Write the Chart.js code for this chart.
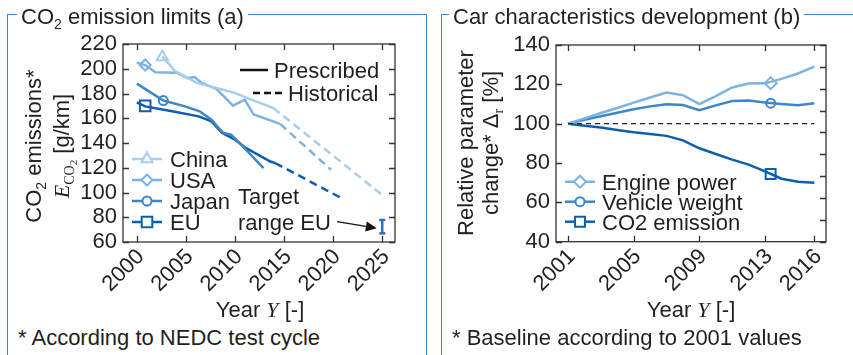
<!DOCTYPE html>
<html>
<head>
<meta charset="utf-8">
<script src="https://cdn.jsdelivr.net/npm/chart.js@4.4.1/dist/chart.umd.min.js"></script>
<style>
  body { margin: 0; background: #fff; font-family: "Liberation Sans", Arial, sans-serif; color: #231f20; }
  #wrap { position: relative; width: 853px; height: 355px; overflow: hidden; }
  canvas { position: absolute; top: 0; }
  .panel { position: absolute; top: 14px; height: 400px; box-sizing: border-box; border: 1.5px solid #4584c6; border-bottom: none; }
  .ptitle { position: absolute; top: 6px; font-size: 22px; line-height: 22px; background: #fff; padding: 0 4px; white-space: nowrap; }
  .txt { position: absolute; font-size: 22px; line-height: 22px; white-space: nowrap; }
  .rot { position: absolute; width: 220px; height: 50px; font-size: 22px; line-height: 25px; text-align: center; white-space: nowrap; transform: rotate(-90deg); }
  .m { font-family: "Liberation Serif", "DejaVu Serif", serif; font-style: italic; }
  .rm { font-family: "Liberation Serif", "DejaVu Serif", serif; }
  .sb { font-size: 14px; position: relative; top: 5px; }
  .sb2 { font-size: 11px; position: relative; top: 3px; }
</style>
</head>
<body>
<div id="wrap">
  <div class="panel" style="left:7px;width:420px;"></div>
  <div class="panel" style="left:441px;width:430px;border-right:none;"></div>
  <canvas id="chartA" width="430" height="300" style="left:0"></canvas>
  <canvas id="chartB" width="413" height="300" style="left:440px"></canvas>

  <div class="ptitle" style="left:17px;">CO<span class="sb">2</span> emission limits (a)</div>
  <div class="ptitle" style="left:449px;">Car characteristics development (b)</div>

  <div class="rot" style="left:-64px;top:121px;">CO<span class="sb">2</span> emissions*<br><span class="m">E</span><span class="rm sb">CO<span class="sb2">2</span></span> [g/km]</div>
  <div class="rot" style="left:368px;top:118px;">Relative parameter<br>change* &Delta;<span class="rm sb">r</span> [%]</div>

  <div class="txt" style="left:160px;top:299px;width:200px;text-align:center;">Year <span class="m">Y</span> [-]</div>
  <div class="txt" style="left:591px;top:299px;width:200px;text-align:center;">Year <span class="m">Y</span> [-]</div>
  <div class="txt" style="left:18px;top:327px;">* According to NEDC test cycle</div>
  <div class="txt" style="left:452px;top:327px;">* Baseline according to 2001 values</div>
</div>

<script>
const fontFam = '"Liberation Sans", Arial, sans-serif';
const ink = '#231f20';

// ---- (a) CO2 emission limits ----
const yearTicksA = [2000, 2005, 2010, 2015, 2020, 2025];
const emissionTicks = [60, 80, 100, 120, 140, 160, 180, 200, 220];

const chinaPrescribed = [[2002.6, 210], [2003.9, 198], [2006.1, 188.6], [2008.5, 183.7], [2010, 180.5], [2011.2, 176.4], [2013.9, 168.3]];
const chinaHistorical = [[2013.9, 168.3], [2025, 98]];
const usaPrescribed = [[2000, 204.8], [2000.85, 203], [2001.9, 197.2], [2004.1, 196.7], [2005.1, 192.6], [2005.9, 193.2], [2006.6, 188.6], [2008.1, 183.7], [2009.8, 170.2], [2011, 175], [2011.9, 163], [2014.6, 155.4]];
const usaHistorical = [[2014.6, 155.4], [2019.8, 118.3]];
const japanPrescribed = [[2000, 188], [2002.7, 174.3], [2004.9, 169.6], [2006.4, 165.6], [2007.6, 158.9], [2008.8, 148.1], [2009.6, 146.7], [2010.8, 137.2], [2012.9, 119.7]];
const euPrescribed = [[2000, 172.9], [2000.85, 169.6], [2003.6, 165.6], [2006.3, 161.5], [2007.6, 157.5], [2008.7, 148.1], [2010, 142.7], [2011.1, 136], [2013.6, 125], [2014.1, 123.8]];
const euHistorical = [[2014.1, 123.8], [2021, 94.8]];
const euTargetRange = [[2025, 67], [2025, 77.8]];

const regions = ['China', 'USA', 'Japan', 'EU'];
const regionMarkers = [[2002.6, 209.5], [2000.85, 203], [2002.7, 174.3], [2000.85, 170]];
const regionColors = ['#a9cdeb', '#7db3e3', '#3d87c7', '#0e5eab'];
const regionStyles = ['triangle', 'rectRot', 'circle', 'rect'];
const regionRadius = [6.5, 5.5, 4.5, 7.5];

const targetLabel = [['Target', 2010.3, 97.3], ['range EU', 2010.3, 76.2]];
const targetArrow = [[2020.4, 76.4], [2024.45, 71.1]];

// ---- (b) Car characteristics development ----
const yearsB = [2001, 2002, 2003, 2004, 2005, 2006, 2007, 2008, 2009, 2010, 2011, 2012, 2013, 2014, 2015, 2016];
const yearTicksB = [2001, 2005, 2009, 2013, 2016];
const changeTicks = [40, 60, 80, 100, 120, 140];
const enginePower = [100, 102.7, 105.4, 108, 110.7, 113.3, 115.8, 114.5, 110, 114, 118.4, 120.4, 120.5, 122.8, 125.5, 129];
const vehicleWeight = [100, 102, 103.8, 105.6, 107.3, 108.8, 109.9, 109.5, 106.8, 109.3, 111.5, 111.8, 110.8, 110, 109.4, 110.4];
const co2Emission = [100, 99, 98, 96.8, 95.7, 94.8, 93.8, 91.5, 87.5, 84.6, 81.7, 79.2, 75.8, 72, 70.5, 70];
const seriesB = ['Engine power', 'Vehicle weight', 'CO2 emission'];
const seriesMarkers = [[2013.34, 120.6], [2013.34, 110.4], [2013.34, 74.4]];
const seriesColors = ['#7db3e3', '#3d87c7', '#0e5eab'];
const seriesStyles = ['rectRot', 'circle', 'rect'];
const seriesRadius = [6, 4.5, 7];

const pts = arr => arr.map(p => ({ x: p[0], y: p[1] }));

function drawMarker(ctx, style, x, y, r) {
  ctx.beginPath();
  if (style === 'circle') {
    ctx.arc(x, y, r, 0, Math.PI * 2);
  } else if (style === 'rect') {
    const s = r * Math.SQRT1_2;
    ctx.rect(x - s, y - s, 2 * s, 2 * s);
  } else if (style === 'rectRot') {
    ctx.moveTo(x - r, y); ctx.lineTo(x, y - r); ctx.lineTo(x + r, y); ctx.lineTo(x, y + r); ctx.closePath();
  } else if (style === 'triangle') {
    let a = 0;
    ctx.moveTo(x + Math.sin(a) * r, y - Math.cos(a) * r);
    a += 2 * Math.PI / 3; ctx.lineTo(x + Math.sin(a) * r, y - Math.cos(a) * r);
    a += 2 * Math.PI / 3; ctx.lineTo(x + Math.sin(a) * r, y - Math.cos(a) * r);
    ctx.closePath();
  }
  ctx.fill();
  ctx.stroke();
}

// box round the plot area with inward ticks on all four sides
const framePlugin = {
  id: 'frame',
  afterDatasetsDraw(chart, args, opts) {
    const { ctx, chartArea: a, scales } = chart;
    const L = 6;
    ctx.save();
    ctx.strokeStyle = '#333';
    ctx.lineWidth = 1.3;
    ctx.beginPath();
    scales.x.ticks.forEach(t => {
      const p = Math.round(scales.x.getPixelForValue(t.value)) + 0.5;
      ctx.moveTo(p, a.bottom); ctx.lineTo(p, a.bottom - L);
      ctx.moveTo(p, a.top); ctx.lineTo(p, a.top + L);
    });
    scales.y.ticks.forEach(t => {
      const p = Math.round(scales.y.getPixelForValue(t.value)) + 0.5;
      ctx.moveTo(a.left, p); ctx.lineTo(a.left + L, p);
    });
    (opts.rightTicks || scales.y.ticks.map(t => t.value)).forEach(v => {
      const p = Math.round(scales.y.getPixelForValue(v)) + 0.5;
      ctx.moveTo(a.right, p); ctx.lineTo(a.right - L, p);
    });
    ctx.stroke();
    ctx.strokeRect(a.left, a.top, a.right - a.left, a.bottom - a.top);
    ctx.restore();
  }
};

// legends and notes drawn inside the plot area
const keysPlugin = {
  id: 'keys',
  afterDraw(chart, args, opts) {
    const { ctx, chartArea: a } = chart;
    ctx.save();
    ctx.font = '22px ' + fontFam;
    ctx.textBaseline = 'alphabetic';
    (opts.groups || []).forEach(g => {
      g.items.forEach((it, i) => {
        const y = a.top + g.y + i * g.dy;
        const x0 = a.left + g.x;
        ctx.strokeStyle = it.color;
        ctx.lineWidth = it.width || 2.5;
        ctx.setLineDash(it.dash || []);
        ctx.beginPath();
        ctx.moveTo(x0, y); ctx.lineTo(x0 + g.len, y);
        ctx.stroke();
        ctx.setLineDash([]);
        if (it.style) {
          ctx.fillStyle = '#fff';
          ctx.lineWidth = 2;
          drawMarker(ctx, it.style, x0 + g.len / 2, y, it.radius);
        }
        ctx.fillStyle = ink;
        ctx.textAlign = 'left';
        ctx.fillText(it.label, x0 + g.len + g.gap, y + 8);
      });
    });
    if (opts.notes) {
      const sx = chart.scales.x, sy = chart.scales.y;
      ctx.fillStyle = ink;
      ctx.textAlign = 'left';
      opts.notes.forEach(n => ctx.fillText(n[0], sx.getPixelForValue(n[1]), sy.getPixelForValue(n[2]) + 8));
      if (opts.arrow) {
        const x1 = sx.getPixelForValue(opts.arrow[0][0]), y1 = sy.getPixelForValue(opts.arrow[0][1]);
        const x2 = sx.getPixelForValue(opts.arrow[1][0]), y2 = sy.getPixelForValue(opts.arrow[1][1]);
        const ang = Math.atan2(y2 - y1, x2 - x1);
        const hl = 11, hw = 5;
        ctx.strokeStyle = '#111';
        ctx.fillStyle = '#111';
        ctx.lineWidth = 1.3;
        ctx.beginPath();
        ctx.moveTo(x1, y1);
        ctx.lineTo(x2 - Math.cos(ang) * hl, y2 - Math.sin(ang) * hl);
        ctx.stroke();
        ctx.beginPath();
        ctx.moveTo(x2, y2);
        ctx.lineTo(x2 - Math.cos(ang) * hl - Math.sin(ang) * hw, y2 - Math.sin(ang) * hl + Math.cos(ang) * hw);
        ctx.lineTo(x2 - Math.cos(ang) * hl + Math.sin(ang) * hw, y2 - Math.sin(ang) * hl - Math.cos(ang) * hw);
        ctx.closePath();
        ctx.fill();
      }
    }
    ctx.restore();
  }
};

function lineSet(data, color, dash) {
  return { data: data, borderColor: color, borderWidth: 2.5, borderDash: dash || [], pointRadius: 0, tension: 0, fill: false };
}
function markerSet(p, color, style, r) {
  return { data: [{ x: p[0], y: p[1] }], showLine: false, pointStyle: style, pointRadius: r, pointBorderWidth: 2,
           pointBackgroundColor: '#fff', pointBorderColor: color, borderColor: color };
}
const tickFont = { family: fontFam, size: 22 };

function axes(xmin, xmax, xticks, ymin, ymax, yticks, yWidth, xHeight) {
  return {
    x: {
      type: 'linear', min: xmin, max: xmax,
      grid: { display: false, drawTicks: false }, border: { display: false },
      afterBuildTicks: s => { s.ticks = xticks.map(v => ({ value: v })); },
      afterFit: s => { s.height = xHeight; },
      ticks: { font: tickFont, color: ink, padding: 2, labelOffset: 4, maxRotation: 45, minRotation: 45, autoSkip: false, callback: v => String(v) }
    },
    y: {
      type: 'linear', min: ymin, max: ymax,
      grid: { display: false, drawTicks: false }, border: { display: false },
      afterBuildTicks: s => { s.ticks = yticks.map(v => ({ value: v })); },
      afterFit: s => { s.width = yWidth; },
      ticks: { font: tickFont, color: ink, padding: 6, autoSkip: false, callback: v => String(v) }
    }
  };
}

// chart (a)
const setsA = [
  lineSet(pts(chinaHistorical), regionColors[0], [8, 5]),
  lineSet(pts(usaHistorical), regionColors[1], [8, 5]),
  lineSet(pts(euHistorical), regionColors[3], [8, 5]),
  lineSet(pts(chinaPrescribed), regionColors[0]),
  lineSet(pts(usaPrescribed), regionColors[1]),
  lineSet(pts(japanPrescribed), regionColors[2]),
  lineSet(pts(euPrescribed), regionColors[3]),
  { data: pts(euTargetRange), borderColor: '#2a72bb', borderWidth: 2.5, pointStyle: 'line', pointRadius: 3,
    pointBorderWidth: 2.5, pointBorderColor: '#2a72bb', tension: 0 }
];
regions.forEach((r, i) => setsA.push(markerSet(regionMarkers[i], regionColors[i], regionStyles[i], regionRadius[i])));

new Chart(document.getElementById('chartA'), {
  type: 'line',
  data: { datasets: setsA },
  options: {
    responsive: false, animation: false,
    layout: { padding: { top: 44, right: 35, left: 0, bottom: 0 } },
    scales: axes(1998.59, 2026.3, yearTicksA, 60, 220, emissionTicks, 123, 58),
    plugins: {
      legend: { display: false }, tooltip: { enabled: false },
      keys: {
        groups: [
          { x: 9, y: 115, dy: 21, len: 30, gap: 8,
            items: regions.map((r, i) => ({ label: r, color: regionColors[i], style: regionStyles[i], radius: regionRadius[i] })) },
          { x: 117, y: 26, dy: 23, len: 28, gap: 6,
            items: [{ label: 'Prescribed', color: '#111' }] },
          { x: 130, y: 49, dy: 23, len: 30, gap: 5,
            items: [{ label: 'Historical', color: '#111', dash: [7, 4] }] }
        ],
        notes: targetLabel,
        arrow: targetArrow
      }
    }
  },
  plugins: [framePlugin, keysPlugin]
});

// chart (b)
const setsB = [
  lineSet(pts([[2001, 100], [2016, 100]]), '#222', [5, 4]),
  lineSet(yearsB.map((y, i) => ({ x: y, y: enginePower[i] })), seriesColors[0]),
  lineSet(yearsB.map((y, i) => ({ x: y, y: vehicleWeight[i] })), seriesColors[1]),
  lineSet(yearsB.map((y, i) => ({ x: y, y: co2Emission[i] })), seriesColors[2])
];
setsB[0].borderWidth = 1.3;
seriesB.forEach((s, i) => setsB.push(markerSet(seriesMarkers[i], seriesColors[i], seriesStyles[i], seriesRadius[i])));

const rightTicksB = [];
for (let k = 0; k <= 9; k++) rightTicksB.push(40 + k * 100 / 9);

new Chart(document.getElementById('chartB'), {
  type: 'line',
  data: { datasets: setsB },
  options: {
    responsive: false, animation: false,
    layout: { padding: { top: 45, right: 27, left: 0, bottom: 0 } },
    scales: axes(2000.27, 2016.71, yearTicksB, 40, 140, changeTicks, 116, 58.3),
    plugins: {
      legend: { display: false }, tooltip: { enabled: false },
      frame: { rightTicks: rightTicksB },
      keys: {
        groups: [
          { x: 9, y: 136.7, dy: 20, len: 30, gap: 7,
            items: seriesB.map((s, i) => ({ label: s, color: seriesColors[i], style: seriesStyles[i], radius: seriesRadius[i] })) }
        ]
      }
    }
  },
  plugins: [framePlugin, keysPlugin]
});
</script>
</body>
</html>
